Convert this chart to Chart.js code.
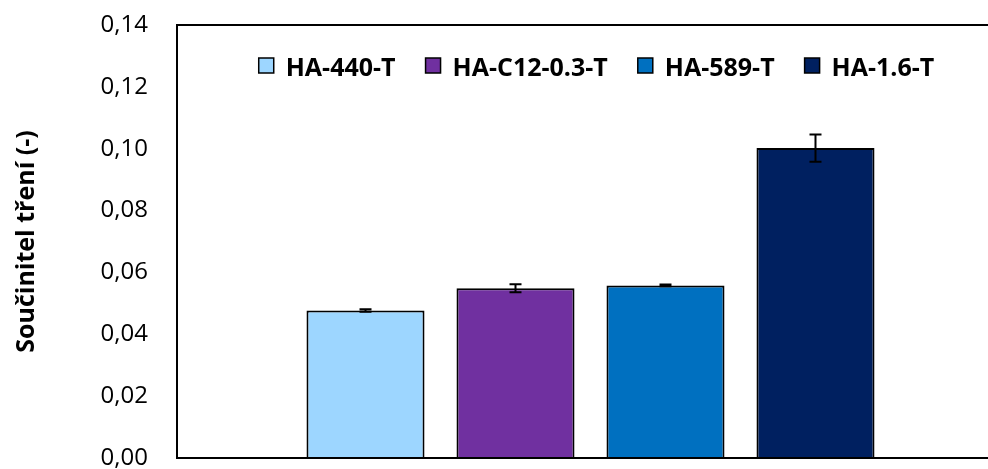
<!DOCTYPE html>
<html>
<head>
<meta charset="utf-8">
<script src="https://cdn.jsdelivr.net/npm/chart.js@4"></script>
<style>
  html, body { margin: 0; padding: 0; background: #fff; overflow: hidden; width: 988px; height: 469px; }
  #graf { display: block; }
</style>
</head>
<body>
<canvas id="graf" width="1020" height="469"></canvas>
<script>
// Data
const categories = [''];
const seriesNames = ['HA-440-T', 'HA-C12-0.3-T', 'HA-589-T', 'HA-1.6-T'];
const seriesValues = [0.0477, 0.0549, 0.0558, 0.1002];
const seriesErrors = [0.0004, 0.0013, 0.0003, 0.0044];
const seriesColors = ['#9DD6FF', '#7030A0', '#0070C0', '#002060'];
const yMin = 0;
const yMax = 0.14;
const yStep = 0.02;
const yTitle = 'Součinitel tření (-)';

const fontFam = '"Open Sans", "Noto Sans", sans-serif';

// Frame round the plot area
const ramecek = {
  id: 'ramecek',
  afterDatasetsDraw(chart) {
    const { ctx, chartArea: a } = chart;
    ctx.save();
    ctx.strokeStyle = '#000';
    ctx.lineWidth = 2;
    ctx.strokeRect(a.left, a.top, a.right - a.left, a.bottom - a.top);
    ctx.restore();
  }
};

// Error bars, placed through the y scale
const chybove = {
  id: 'chybove',
  afterDatasetsDraw(chart) {
    const { ctx } = chart;
    const y = chart.scales.y;
    ctx.save();
    ctx.strokeStyle = '#000';
    ctx.lineWidth = 2;
    chart.data.datasets.forEach((ds, i) => {
      const bar = chart.getDatasetMeta(i).data[0];
      const v = ds.data[0];
      const e = seriesErrors[i];
      const yTop = y.getPixelForValue(v + e);
      const yBot = y.getPixelForValue(v - e);
      const x = bar.x;
      ctx.beginPath();
      ctx.moveTo(x, yTop); ctx.lineTo(x, yBot);
      ctx.moveTo(x - 6, yTop); ctx.lineTo(x + 6, yTop);
      ctx.moveTo(x - 6, yBot); ctx.lineTo(x + 6, yBot);
      ctx.stroke();
    });
    ctx.restore();
  }
};

// Legend inside the plot area, at the top
const legenda = {
  id: 'legenda',
  afterDraw(chart) {
    const { ctx, chartArea: a } = chart;
    ctx.save();
    ctx.font = 'bold 25px ' + fontFam;
    const widths = seriesNames.map(n => ctx.measureText(n).width);
    const total = widths.reduce((s, w) => s + w + 27, 0) + 30 * (seriesNames.length - 1);
    let x = a.left + (a.right - a.left) / 2 + 6 - total / 2;
    const base = a.top + 51;
    seriesNames.forEach((n, i) => {
      ctx.fillStyle = seriesColors[i];
      ctx.fillRect(x, base - 18, 15, 15);
      ctx.strokeStyle = '#000';
      ctx.lineWidth = 1.5;
      ctx.strokeRect(x, base - 18, 15, 15);
      ctx.fillStyle = '#000';
      ctx.textBaseline = 'alphabetic';
      ctx.fillText(n, x + 27, base);
      x += 27 + widths[i] + 30;
    });
    ctx.restore();
  }
};

new Chart(document.getElementById('graf'), {
  type: 'bar',
  data: {
    labels: categories,
    datasets: seriesNames.map((n, i) => ({
      label: n,
      data: [seriesValues[i]],
      backgroundColor: seriesColors[i],
      borderColor: '#000',
      borderWidth: 2,
      categoryPercentage: 0.7255,
      barPercentage: 0.787
    }))
  },
  options: {
    responsive: false,
    animation: false,
    devicePixelRatio: 1,
    layout: { padding: { left: 0, right: 16, top: 25, bottom: 11 } },
    scales: {
      x: { display: false },
      y: {
        min: yMin,
        max: yMax,
        grid: { display: false, drawTicks: false },
        border: { display: false },
        ticks: {
          stepSize: yStep,
          padding: 29,
          color: '#000',
          font: { family: fontFam, size: 24 },
          callback: v => v.toFixed(2).replace('.', ',')
        },
        title: {
          display: true,
          text: yTitle,
          color: '#000',
          font: { family: fontFam, size: 25, weight: 'bold' },
          padding: { top: 12, bottom: 0 }
        },
        afterFit: s => {
          s.width = 177;
          s.paddingTop = 0;
          s.paddingBottom = 0;
        }
      }
    },
    plugins: {
      legend: { display: false },
      tooltip: { enabled: false }
    }
  },
  plugins: [ramecek, chybove, legenda]
});
</script>
</body>
</html>
